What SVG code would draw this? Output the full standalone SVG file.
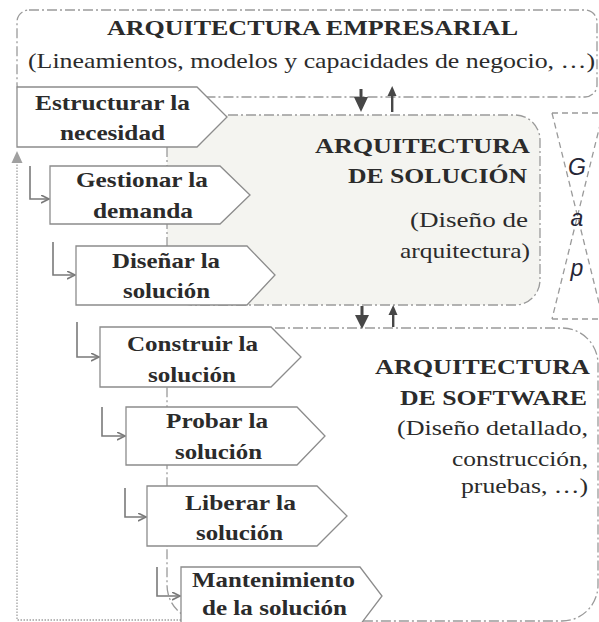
<svg xmlns="http://www.w3.org/2000/svg" width="599" height="622" viewBox="0 0 599 622">
<style>
  .bg{fill:#ffffff}
  .dd{fill:none;stroke:#9a9a9a;stroke-width:1.3;stroke-dasharray:10 3 2 3}
  .sol{fill:#f4f4f0;stroke:#9a9a9a;stroke-width:1.3;stroke-dasharray:10 3 2 3}
  .gap{fill:none;stroke:#9a9a9a;stroke-width:1.3;stroke-dasharray:6 4}
  .box{fill:#ffffff;stroke:#8c8c8c;stroke-width:1.3}
  .conn{fill:none;stroke:#7a7a7a;stroke-width:1.6}
  .loop{fill:none;stroke:#a0a0a0;stroke-width:1.3;stroke-dasharray:1.5 1.5}
  .b{font-family:"Liberation Serif",serif;font-weight:bold;font-size:21px;fill:#2b2b2b}
  .r{font-family:"Liberation Serif",serif;font-size:21px;fill:#2b2b2b}
  .g{font-family:"Liberation Sans",sans-serif;font-style:italic;font-size:23px;fill:#262636;text-anchor:middle}
  .dark{fill:#474747;stroke:none}
</style>
<defs>
  <marker id="ah" markerWidth="10" markerHeight="10" refX="8" refY="4" orient="auto" markerUnits="userSpaceOnUse">
    <path d="M0,0 L8,4 L0,8" fill="none" stroke="#7a7a7a" stroke-width="1.6"/>
  </marker>
</defs>
<rect class="bg" x="0" y="0" width="599" height="622"/>

<g id="enterprise">
  <rect class="dd" x="17" y="10" width="580" height="87" rx="12"/>
  <text class="b" x="107" y="35" font-size="22" textLength="411" lengthAdjust="spacingAndGlyphs">ARQUITECTURA EMPRESARIAL</text>
  <text class="r" x="28" y="68" textLength="567" lengthAdjust="spacingAndGlyphs">(Lineamientos, modelos y capacidades de negocio, …)</text>
</g>

<g id="solution">
  <rect class="sol" x="167" y="115" width="373" height="190" rx="25"/>
  <text class="b" x="315" y="153" textLength="215" lengthAdjust="spacingAndGlyphs">ARQUITECTURA</text>
  <text class="b" x="348" y="183" textLength="179" lengthAdjust="spacingAndGlyphs">DE SOLUCIÓN</text>
  <text class="r" x="410" y="227" textLength="118" lengthAdjust="spacingAndGlyphs">(Diseño de</text>
  <text class="r" x="400" y="258" textLength="130" lengthAdjust="spacingAndGlyphs">arquitectura)</text>
</g>

<g id="software">
  <rect class="dd" x="167" y="328" width="431" height="293" rx="36"/>
  <text class="b" x="375" y="374" textLength="215" lengthAdjust="spacingAndGlyphs">ARQUITECTURA</text>
  <text class="b" x="400" y="405" textLength="187" lengthAdjust="spacingAndGlyphs">DE SOFTWARE</text>
  <text class="r" x="397" y="435" textLength="191" lengthAdjust="spacingAndGlyphs">(Diseño detallado,</text>
  <text class="r" x="452" y="466" textLength="136" lengthAdjust="spacingAndGlyphs">construcción,</text>
  <text class="r" x="461" y="493" textLength="127" lengthAdjust="spacingAndGlyphs">pruebas, …)</text>
</g>

<g id="gap">
  <path class="gap" d="M552,113 H603 M552,319 H603 M552,113 L603,319 M603,113 L552,319"/>
  <text class="g" x="577" y="175">G</text>
  <text class="g" x="577" y="226">a</text>
  <text class="g" x="577" y="276">p</text>
</g>

<g id="connectors">
  <path class="loop" d="M181,620 H17 V160"/>
  <polygon points="11.5,163 22.5,163 17,151" fill="#a0a0a0"/>
  <path class="conn" d="M30,166 V199 H49" marker-end="url(#ah)"/>
  <path class="conn" d="M53,242 V275 H75" marker-end="url(#ah)"/>
  <path class="conn" d="M77,322 V357 H99" marker-end="url(#ah)"/>
  <path class="conn" d="M102,407 V436 H125" marker-end="url(#ah)"/>
  <path class="conn" d="M125,488 V517 H146" marker-end="url(#ah)"/>
  <path class="conn" d="M157,567 V596 H180" marker-end="url(#ah)"/>
  <rect class="dark" x="359.5" y="89" width="3" height="10"/>
  <polygon class="dark" points="354,97 368,97 361,112"/>
  <rect class="dark" x="391" y="94" width="2.4" height="18"/>
  <polygon class="dark" points="387.5,96 396.5,96 392.2,86"/>
  <rect class="dark" x="360.5" y="306" width="3" height="11"/>
  <polygon class="dark" points="355,315 369,315 362,329"/>
  <rect class="dark" x="392" y="313" width="2.4" height="14"/>
  <polygon class="dark" points="388.5,315 397.5,315 393.2,305"/>
</g>

<g id="estructurar">
  <path class="box" d="M17,87 H197 L227,117 L197,147 H17 Z"/>
  <text class="b" x="35" y="110" textLength="155" lengthAdjust="spacingAndGlyphs">Estructurar la</text>
  <text class="b" x="60" y="140" textLength="105" lengthAdjust="spacingAndGlyphs">necesidad</text>
</g>
<g id="gestionar">
  <path class="box" d="M50,166 H220 L250,195 L220,224 H50 Z"/>
  <text class="b" x="76" y="187" textLength="132" lengthAdjust="spacingAndGlyphs">Gestionar la</text>
  <text class="b" x="93" y="218" textLength="100" lengthAdjust="spacingAndGlyphs">demanda</text>
</g>
<g id="disenar">
  <path class="box" d="M76,246 H247 L275,275 L247,305 H76 Z"/>
  <text class="b" x="112" y="268" textLength="108" lengthAdjust="spacingAndGlyphs">Diseñar la</text>
  <text class="b" x="123" y="298" textLength="87" lengthAdjust="spacingAndGlyphs">solución</text>
</g>
<g id="construir">
  <path class="box" d="M100,327 H271 L301,357 L271,387 H100 Z"/>
  <text class="b" x="127" y="351" textLength="131" lengthAdjust="spacingAndGlyphs">Construir la</text>
  <text class="b" x="148" y="382" textLength="88" lengthAdjust="spacingAndGlyphs">solución</text>
</g>
<g id="probar">
  <path class="box" d="M126,407 H297 L325,436 L297,465 H126 Z"/>
  <text class="b" x="166" y="428" textLength="102" lengthAdjust="spacingAndGlyphs">Probar la</text>
  <text class="b" x="175" y="459" textLength="87" lengthAdjust="spacingAndGlyphs">solución</text>
</g>
<g id="liberar">
  <path class="box" d="M147,486 H317 L347,516 L317,546 H147 Z"/>
  <text class="b" x="185" y="510" textLength="111" lengthAdjust="spacingAndGlyphs">Liberar la</text>
  <text class="b" x="196" y="540" textLength="87" lengthAdjust="spacingAndGlyphs">solución</text>
</g>
<g id="mantenimiento">
  <path class="box" d="M181,567 H360 L382,596 L360,625 H181 Z"/>
  <text class="b" x="192" y="587" textLength="163" lengthAdjust="spacingAndGlyphs">Mantenimiento</text>
  <text class="b" x="202" y="615" textLength="145" lengthAdjust="spacingAndGlyphs">de la solución</text>
</g>
</svg>
